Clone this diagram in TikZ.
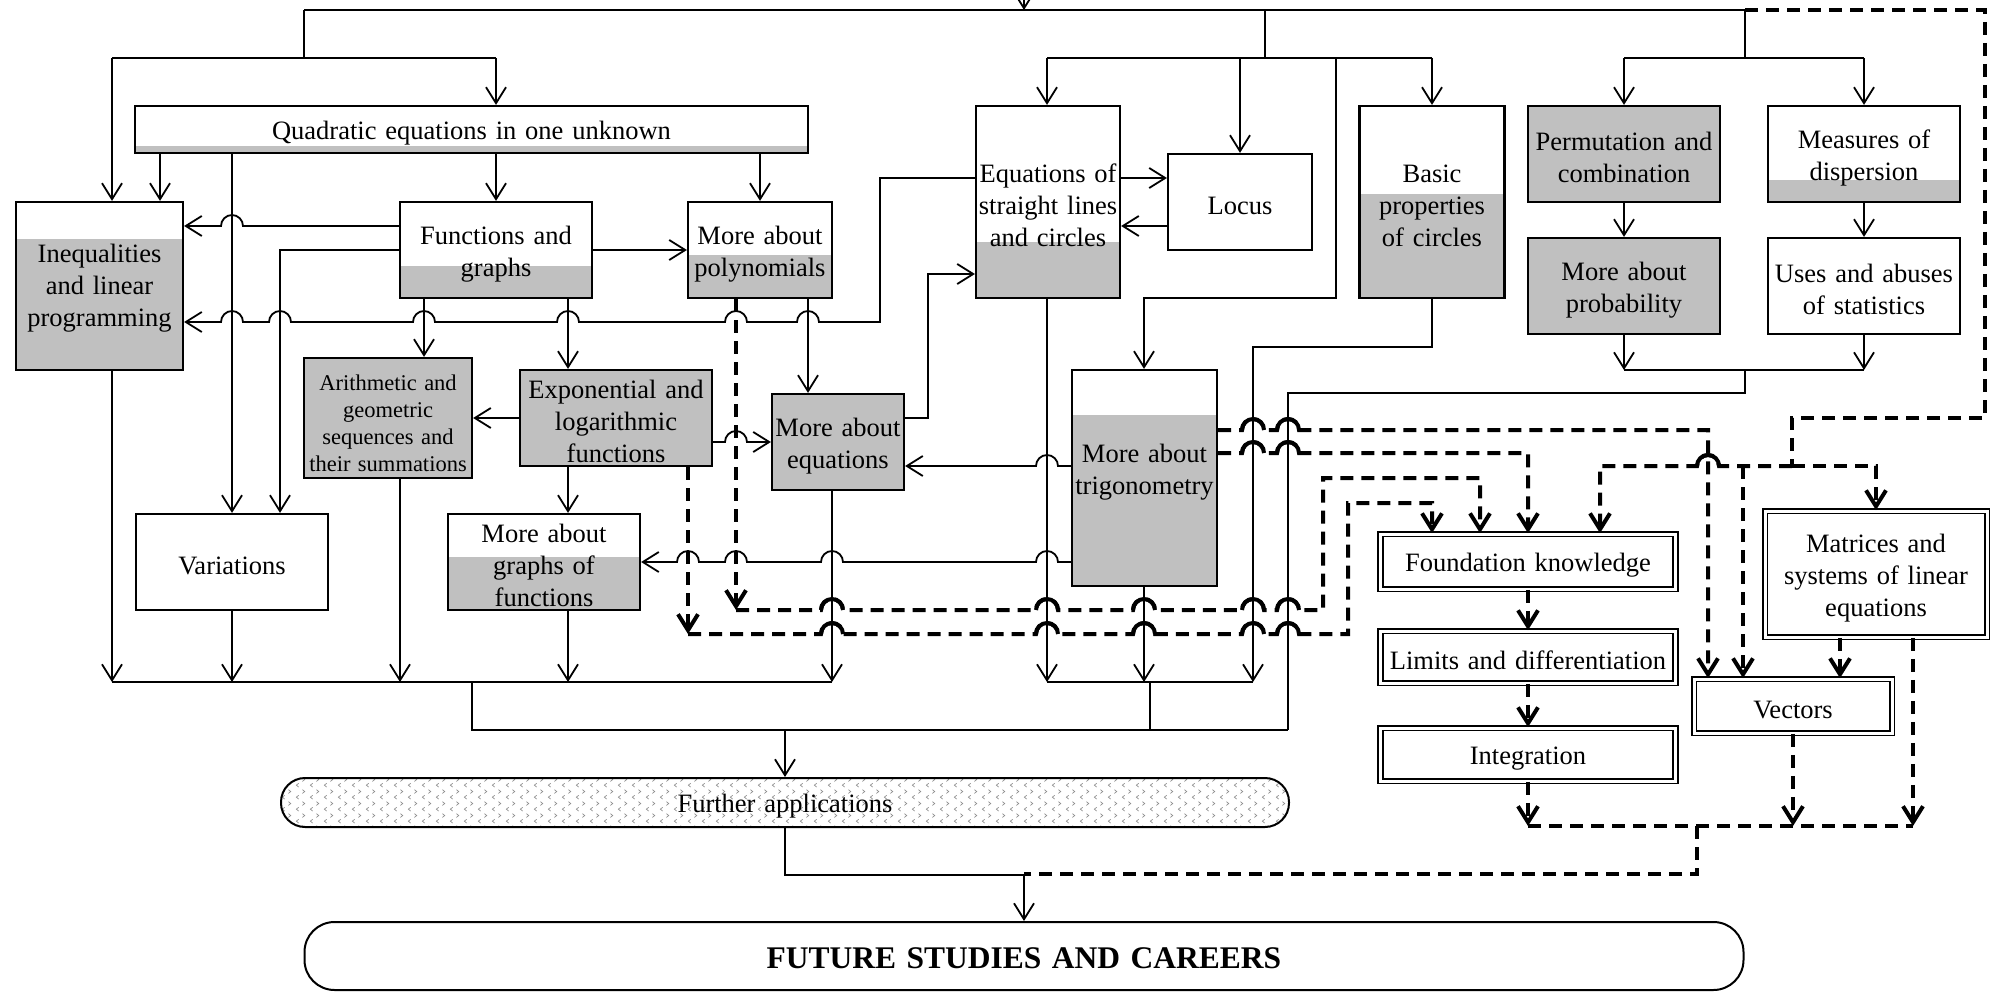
\documentclass[tikz,border=0pt]{standalone}
\usepackage{fontspec}
\setmainfont{Liberation Serif}
\usepackage{tikz}
\usetikzlibrary{arrows.meta, calc, patterns}
\usepackage{xcolor}
\definecolor{boxgray}{HTML}{C0C0C0}
\pgfdeclarepatternformonly{chevs}{\pgfpointorigin}{\pgfqpoint{14pt}{12pt}}{\pgfqpoint{14pt}{12pt}}{%
  \pgfsetlinewidth{0.7pt}
  \pgfpathmoveto{\pgfqpoint{5pt}{1pt}}\pgfpathlineto{\pgfqpoint{2.5pt}{3pt}}\pgfpathlineto{\pgfqpoint{5pt}{5pt}}
  \pgfpathmoveto{\pgfqpoint{9pt}{7pt}}\pgfpathlineto{\pgfqpoint{11.5pt}{9pt}}\pgfpathlineto{\pgfqpoint{9pt}{11pt}}
  \pgfusepath{stroke}}
\tikzstyle{topic} = [rectangle, draw=black, line width=2.2pt, align=center, inner sep=1pt, font=\fontsize{26.5pt}{32pt}\selectfont, execute at begin node={\rule{0pt}{26pt}}]
\tikzstyle{core} = [topic, fill=boxgray]
\tikzstyle{module} = [topic, line width=1.8pt, double, double distance=3pt]
\tikzstyle{link} = [line width=1.8pt]
\tikzstyle{arrow} = [link, -{Straight Barb[length=16pt,width=20pt]}]
\tikzstyle{dlink} = [line width=4pt, dash pattern=on 13pt off 8pt]
\tikzstyle{darrow} = [dlink, -{Straight Barb[length=16pt,width=20pt]}]
\tikzset{part/.style={topic, path picture={\fill[boxgray] ($(path picture bounding box.north west)!#1!(path picture bounding box.south west)$) rectangle (path picture bounding box.south east);}}}
\newcommand{\hopl}[2]{-- ({#1+11},#2) arc[start angle=0, end angle=180, radius=11pt]}
\newcommand{\hopr}[2]{-- ({#1-11},#2) arc[start angle=180, end angle=0, radius=11pt]}

\begin{document}
\begin{tikzpicture}[x=1pt, y=-1pt]
\useasboundingbox (0,0) rectangle (1995,992);

% Nodes
\node (quad) [part=0.85, text width=671pt, minimum height=47pt] at (471.5,129.5) {Quadratic equations in one unknown};
\node (ineq) [part=0.22, text width=165pt, minimum height=168pt] at (99.5,286) {Inequalities\\and linear\\programming\\[-24pt]\mbox{}};
\node (fun) [part=0.667, text width=190pt, minimum height=96pt] at (496,250) {Functions and\\graphs};
\node (poly) [part=0.55, text width=142pt, minimum height=96pt] at (760,250) {More about\\polynomials};
\node (eqsl) [part=0.708, text width=142pt, minimum height=192pt] at (1048,202) {Equations of\\straight lines\\and circles};
\node (locus) [topic, text width=142pt, minimum height=96pt] at (1240,202) {Locus};
\node (basic) [part=0.458, text width=143pt, minimum height=192pt] at (1432,202) {Basic\\properties\\of circles};
\node (perm) [core, text width=190pt, minimum height=96pt] at (1624,154) {Permutation and\\combination};
\node (meas) [part=0.77, text width=190pt, minimum height=96pt] at (1864,154) {Measures of\\dispersion};
\node (prob) [core, text width=190pt, minimum height=96pt] at (1624,286) {More about\\probability};
\node (stat) [topic, text width=190pt, minimum height=96pt] at (1864,286) {Uses and abuses\\of statistics};
\node (arith) [core, text width=166pt, minimum height=120pt, font=\fontsize{22.5pt}{27pt}\selectfont] at (388,418) {Arithmetic and\\geometric\\sequences and\\their summations};
\node (expo) [core, text width=190pt, minimum height=96pt] at (616,418) {Exponential and\\logarithmic\\functions};
\node (moreq) [core, text width=130pt, minimum height=96pt] at (838,442) {More about\\equations};
\node (trig) [part=0.208, text width=143pt, minimum height=216pt] at (1144.5,478) {More about\\trigonometry\\[-6pt]\mbox{}};
\node (var) [topic, text width=190pt, minimum height=96pt] at (232,562) {Variations};
\node (graf) [part=0.448, text width=190pt, minimum height=96pt] at (544,562) {More about\\graphs of\\functions};
\node (found) [module, text width=293pt, minimum height=55pt] at (1528,561.5) {Foundation knowledge};
\node (limit) [module, text width=293pt, minimum height=52pt] at (1528,657) {Limits and differentiation};
\node (integ) [module, text width=293pt, minimum height=53pt] at (1528,754.5) {Integration};
\node (matr) [module, text width=220pt, minimum height=126pt] at (1876,574) {Matrices and\\systems of linear\\equations};
\node (vect) [module, text width=196pt, minimum height=54pt] at (1793,706) {Vectors};
\node (furth) [topic, line width=2pt, rounded corners=24pt, pattern=chevs, pattern color=black!45, text width=1006pt, minimum height=49pt] at (785,802.5) {Further applications};
\node (future) [topic, line width=2pt, rounded corners=30pt, text width=1437pt, minimum height=68pt, font=\fontsize{31.5pt}{38pt}\selectfont\bfseries] at (1024,956) {FUTURE STUDIES AND CAREERS};
\coordinate (feed) at (1024,-20);

% Top branches
\draw [arrow] (feed) -- (1024,10);
\draw [link] (304,10) -- (1745,10);
\draw [link] (304,10) -- (304,58);
\draw [link] (112,58) -- (496,58);
\draw [arrow] (112,58) -- (ineq.north -| 112,0);
\draw [arrow] (496,58) -- (quad.north -| 496,0);
\draw [link] (1265,10) -- (1265,58);
\draw [link] (1047,58) -- (1432,58);
\draw [arrow] (1047,58) -- (eqsl.north -| 1047,0);
\draw [arrow] (1240,58) -- (locus.north);
\draw [arrow] (1432,58) -- (basic.north);
\draw [arrow] (1336,58) -- (1336,298) -- (1144,298) -- (trig.north -| 1144,0);
\draw [link] (1745,10) -- (1745,58);
\draw [link] (1624,58) -- (1864,58);
\draw [arrow] (1624,58) -- (perm.north);
\draw [arrow] (1864,58) -- (meas.north);
\draw [arrow] (perm) -- (prob);
\draw [arrow] (meas) -- (stat);

% Solid arrows
\draw [arrow] (quad.south -| 160,0) -- (ineq.north -| 160,0);
\draw [arrow] (quad.south -| 496,0) -- (fun.north);
\draw [arrow] (quad.south -| 760,0) -- (poly.north);
\draw [arrow] (quad.south -| 232,0) -- (var.north);
\draw [arrow] (fun.west |- 0,226) \hopl{232}{226} -- (ineq.east |- 0,226);
\draw [arrow] (fun.west) -- (280,250) -- (var.north -| 280,0);
\draw [arrow] (fun) -- (poly);
\draw [arrow] (fun.south -| 424,0) -- (arith.north -| 424,0);
\draw [arrow] (fun.south -| 568,0) -- (expo.north -| 568,0);
\draw [arrow] (eqsl.west |- 0,178) -- (880,178) -- (880,322) \hopl{808}{322} \hopl{736}{322} \hopl{568}{322} \hopl{424}{322} \hopl{280}{322} \hopl{232}{322} -- (ineq.east |- 0,322);
\draw [arrow] (poly.south -| 808,0) -- (moreq.north -| 808,0);
\draw [arrow] (expo) -- (arith);
\draw [arrow] (expo.east |- 0,442) \hopr{736}{442} -- (moreq.west);
\draw [arrow] (expo.south -| 568,0) -- (graf.north -| 568,0);
\draw [arrow] (moreq.east |- 0,418) -- (928,418) -- (928,274) -- (eqsl.west |- 0,274);
\draw [arrow] (eqsl.east |- 0,178) -- (locus.west |- 0,178);
\draw [arrow] (locus.west |- 0,226) -- (eqsl.east |- 0,226);
\draw [arrow] (trig.west |- 0,466) \hopl{1047}{466} -- (moreq.east |- 0,466);
\draw [arrow] (trig.west |- 0,562) \hopl{1047}{562} \hopl{832}{562} \hopl{736}{562} \hopl{688}{562} -- (graf.east);
\draw [arrow] (prob.south) -- (1624,370);
\draw [arrow] (stat.south) -- (1864,370);
\draw [link] (1624,370) -- (1864,370);
\draw [link] (1745,370) -- (1745,393) -- (1288,393) -- (1288,730);

% Into the lower merges
\draw [arrow] (ineq.south -| 112,0) -- (112,682);
\draw [arrow] (var.south) -- (232,682);
\draw [arrow] (arith.south -| 400,0) -- (400,682);
\draw [arrow] (graf.south -| 568,0) -- (568,682);
\draw [arrow] (moreq.south -| 832,0) -- (832,682);
\draw [arrow] (eqsl.south -| 1047,0) -- (1047,682);
\draw [arrow] (trig.south -| 1144,0) -- (1144,682);
\draw [arrow] (basic.south) -- (1432,347) -- (1253,347) -- (1253,682);
\draw [link] (112,682) -- (832,682);
\draw [link] (1047,682) -- (1253,682);
\draw [link] (472,682) -- (472,730) -- (1288,730);
\draw [link] (1150,682) -- (1150,730);
\draw [arrow] (785,730) -- (furth.north);
\draw [arrow] (furth.south) -- (785,875) -- (1024,875) -- (future.north);

% Dashed arrows
\draw [darrow] (poly.south -| 736,0) -- (736,610);
\draw [darrow] (expo.south -| 688,0) -- (688,634);
\draw [darrow] (736,610) \hopr{832}{610} \hopr{1047}{610} \hopr{1144}{610} \hopr{1253}{610} \hopr{1288}{610} -- (1323,610) -- (1323,478) -- (1480,478) -- (found.north -| 1480,0);
\draw [darrow] (688,634) \hopr{832}{634} \hopr{1047}{634} \hopr{1144}{634} \hopr{1253}{634} \hopr{1288}{634} -- (1348,634) -- (1348,503) -- (1432,503) -- (found.north -| 1432,0);
\draw [darrow] (trig.east |- 0,430) \hopr{1253}{430} \hopr{1288}{430} -- (1708,430) -- (vect.north -| 1708,0);
\draw [darrow] (trig.east |- 0,453) \hopr{1253}{453} \hopr{1288}{453} -- (1528,453) -- (found.north);
\draw [dlink] (1745,10) -- (1985,10) -- (1985,418) -- (1792,418) -- (1792,466);
\draw [darrow] (1792,466) \hopl{1708}{466} -- (1600,466) -- (found.north -| 1600,0);
\draw [darrow] (1792,466) -- (1876,466) -- (matr.north);
\draw [darrow] (1743,466) -- (vect.north -| 1743,0);
\draw [darrow] (found) -- (limit);
\draw [darrow] (limit) -- (integ);
\draw [darrow] (integ.south) -- (1528,826);
\draw [darrow] (matr.south -| 1840,0) -- (vect.north -| 1840,0);
\draw [darrow] (matr.south -| 1913,0) -- (1913,826);
\draw [darrow] (vect.south) -- (1793,826);
\draw [dlink] (1528,826) -- (1913,826);
\draw [dlink] (1697,826) -- (1697,874) -- (1024,874);

% Solid bridges on the dashed lines
\foreach \hx/\hy in {832/610, 1047/610, 1144/610, 1253/610, 1288/610, 832/634, 1047/634, 1144/634, 1253/634, 1288/634, 1253/430, 1288/430, 1253/453, 1288/453, 1708/466}
  \draw [line width=4pt] ({\hx-11},\hy) arc[start angle=180, end angle=0, radius=11pt];

\end{tikzpicture}
\end{document}
